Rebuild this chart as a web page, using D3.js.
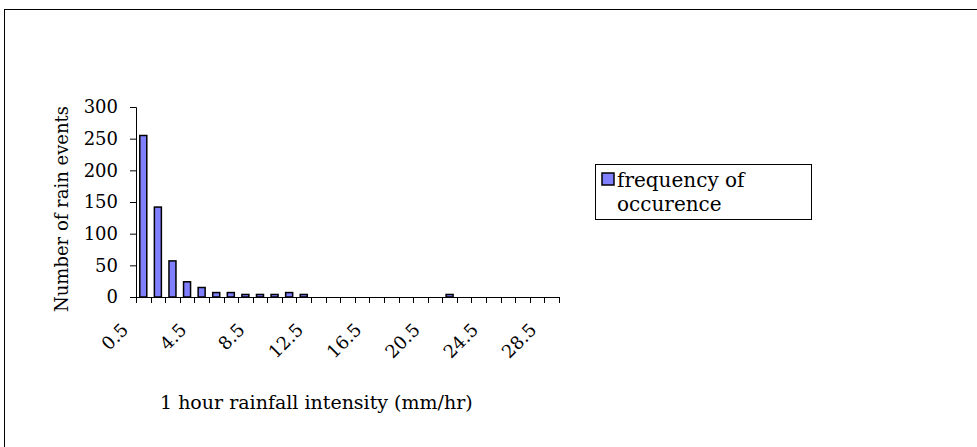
<!DOCTYPE html>
<html>
<head>
<meta charset="utf-8">
<script src="https://cdn.jsdelivr.net/npm/d3@7"></script>
<style>
  html, body { margin: 0; padding: 0; background: #fff; }
  svg text { font-family: "DejaVu Serif", "Liberation Serif", serif; fill: #000; }
</style>
</head>
<body>
<svg id="chart" width="977" height="447"></svg>
<script>
// Data
const categories = ["0.5","1.5","2.5","3.5","4.5","5.5","6.5","7.5","8.5","9.5","10.5","11.5","12.5","13.5","14.5","15.5","16.5","17.5","18.5","19.5","20.5","21.5","22.5","23.5","24.5","25.5","26.5","27.5","28.5"];
const frequency = [255,142,57,24,15,7,7,4,4,4,7,4,0,0,0,0,0,0,0,0,0,4,0,0,0,0,0,0,0];
const yTicks = [0,50,100,150,200,250,300];
const xLabelTicks = ["0.5","4.5","8.5","12.5","16.5","20.5","24.5","28.5"];
const seriesName = ["frequency of", "occurence"];
const xTitle = "1 hour rainfall intensity (mm/hr)";
const yTitle = "Number of rain events";

const svg = d3.select("#chart");
const fs = 18;

// outer chart border (extends past window on right/bottom)
svg.append("rect").attr("x", 4.5).attr("y", 9.5).attr("width", 1100).attr("height", 600)
  .attr("fill", "none").attr("stroke", "#000").attr("stroke-width", 1);

const plot = {left: 136, right: 559, top: 107, bottom: 297};

const x = d3.scaleBand().domain(categories).range([plot.left, plot.right]).padding(0);
const y = d3.scaleLinear().domain([0, 300]).range([plot.bottom, plot.top]);

// bars
const barW = x.bandwidth() * 0.48;
svg.append("g").selectAll("rect").data(categories.map((c, i) => ({c, v: frequency[i]})).filter(d => d.v > 0))
  .join("rect")
  .attr("x", d => x(d.c) + (x.bandwidth() - barW) / 2)
  .attr("y", d => y(d.v))
  .attr("width", barW)
  .attr("height", d => y(0) - y(d.v))
  .attr("fill", "#8080ff")
  .attr("stroke", "#000")
  .attr("stroke-width", 1.5);

// y axis
const yAxis = svg.append("g").attr("transform", `translate(${plot.left},0)`)
  .call(d3.axisLeft(y).tickValues(yTicks).tickSize(6).tickPadding(12));
yAxis.select(".domain").attr("stroke", "#000");
yAxis.selectAll("text").style("font-size", fs + "px").style("font-family", "DejaVu Serif");

// x axis line and boundary ticks
const xg = svg.append("g").attr("transform", `translate(0,${plot.bottom})`);
xg.append("line").attr("x1", plot.left).attr("x2", plot.right).attr("y1", 0.5).attr("y2", 0.5).attr("stroke", "#000");
const bounds = categories.map(c => x(c)).concat([x(categories[categories.length - 1]) + x.bandwidth()]);
xg.selectAll("line.tk").data(bounds).join("line").attr("class", "tk")
  .attr("x1", d => Math.round(d) + 0.5).attr("x2", d => Math.round(d) + 0.5)
  .attr("y1", 0).attr("y2", 6).attr("stroke", "#000");

// x labels via axis (rotated)
const xl = svg.append("g").attr("transform", `translate(0,${plot.bottom})`)
  .call(d3.axisBottom(x).tickValues(xLabelTicks).tickSize(0).tickPadding(0));
xl.select(".domain").remove();
xl.selectAll("text")
  .style("font-size", fs + "px").style("font-family", "DejaVu Serif")
  .attr("text-anchor", "end")
  .attr("dy", null)
  .attr("transform", "translate(-14,34) rotate(-45)");

// axis titles
svg.append("text").attr("x", 160).attr("y", 409).attr("text-anchor", "start")
  .style("font-size", "19px").text(xTitle);
svg.append("text").attr("transform", "translate(68,209) rotate(-90)").attr("text-anchor", "middle")
  .style("font-size", fs + "px").text(yTitle);

// legend
const lg = svg.append("g");
lg.append("rect").attr("x", 595.5).attr("y", 164.5).attr("width", 216).attr("height", 55)
  .attr("fill", "#fff").attr("stroke", "#000");
lg.append("rect").attr("x", 602).attr("y", 173).attr("width", 12).attr("height", 12)
  .attr("fill", "#8080ff").attr("stroke", "#000").attr("stroke-width", 1.5);
lg.append("text").attr("x", 617).attr("y", 187).style("font-size", "20px").text(seriesName[0]);
lg.append("text").attr("x", 617).attr("y", 211).style("font-size", "20px").text(seriesName[1]);
</script>
</body>
</html>
